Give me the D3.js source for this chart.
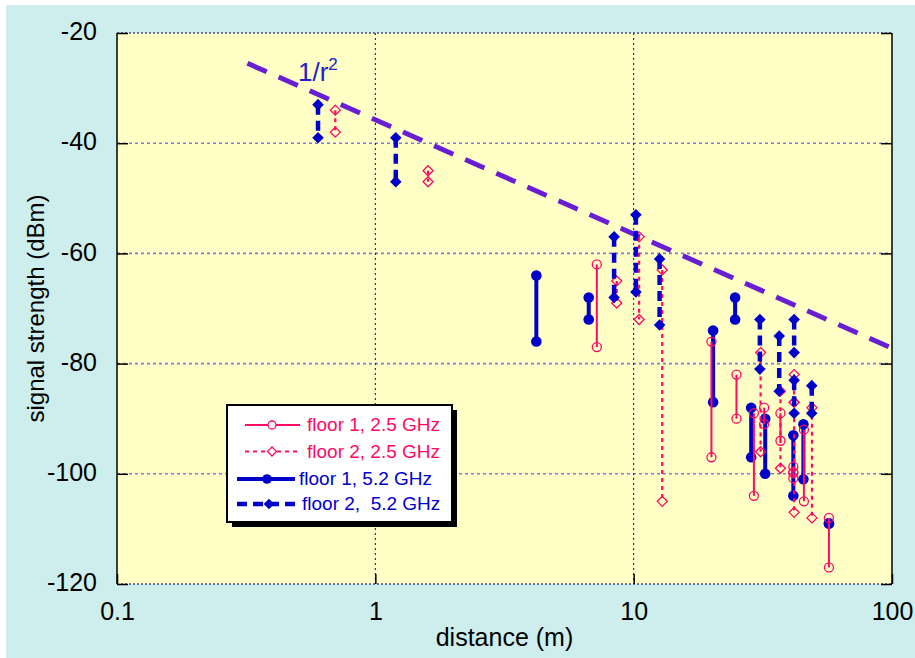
<!DOCTYPE html>
<html>
<head>
<meta charset="utf-8">
<script src="https://cdn.jsdelivr.net/npm/d3@7"></script>
<style>
  body { margin: 0; background: #fff; }
  svg { display: block; }
  text { font-family: "Liberation Sans", Arial, sans-serif; }
</style>
</head>
<body>
<svg></svg>
<script>
// floor 1, 2.5 GHz (open circles, thin solid)
var f1_25_dist = [7.2, 20, 25, 29.2, 32, 37, 41.5, 41.5, 45.6, 57];
var f1_25_hi   = [-62, -76, -82, -89, -88, -89, -98.7, -99.8, -92, -108];
var f1_25_lo   = [-77, -97, -90, -104, -91, -94, -100.8, -99.8, -105, -117];

// floor 2, 2.5 GHz (open diamonds, dotted)
var f2_25_dist = [0.7, 1.6, 8.6, 10.5, 12.9, 31, 37, 41.8, 41.8, 49];
var f2_25_hi   = [-34, -45, -65, -57, -63, -78, -85, -82, -87, -88];
var f2_25_lo   = [-38, -47, -69, -72, -105, -96, -99, -87, -107, -108];

// floor 1, 5.2 GHz (filled circles, thick solid)
var f1_52_dist = [4.2, 6.7, 20.3, 24.7, 28.5, 32.3, 41.5, 45.4, 57];
var f1_52_hi   = [-64, -68, -74, -68, -88, -90, -93, -91, -109];
var f1_52_lo   = [-76, -72, -87, -72, -97, -100, -104, -101, -109];

// floor 2, 5.2 GHz (filled diamonds, thick dashed)
var f2_52_dist = [0.6, 1.2, 8.4, 10.2, 12.6, 30.8, 36.6, 41.8, 41.8, 48.9];
var f2_52_hi   = [-33, -39, -57, -53, -61, -72, -75, -72, -83, -84];
var f2_52_lo   = [-39, -47, -68, -67, -73, -81, -85, -78, -89, -89];

// 1/r^2 reference line end points
var ref_dist = [0.32, 100];
var ref_val  = [-25.5, -77.2];

var xTicks = [0.1, 1, 10, 100];
var yTicks = [-120, -100, -80, -60, -40, -20];
var legendLabels = ['floor 1, 2.5 GHz', 'floor 2, 2.5 GHz', 'floor 1, 5.2 GHz', 'floor 2,  5.2 GHz'];

var W = 915, H = 658;
var red = '#ff0a64', blue = '#0000cc';

var svg = d3.select('svg')
    .attr('width', W)
    .attr('height', H);

svg.append('rect')
    .attr('x', 6).attr('y', 5)
    .attr('width', W - 6).attr('height', H - 5)
    .attr('fill', '#cdeeed');

// plot box (window.top is reserved, so use p* names)
var pL = 117, pR = 892, pT = 33, pB = 584;

var x = d3.scaleLog().domain([0.1, 100]).range([pL, pR]);
var y = d3.scaleLinear().domain([-120, -20]).range([pB, pT]);

svg.append('rect')
    .attr('x', pL).attr('y', pT)
    .attr('width', pR - pL).attr('height', pB - pT)
    .attr('fill', '#ffffc6');

// grid
svg.append('g').selectAll('line')
    .data([-100, -80, -60, -40])
    .enter().append('line')
    .attr('x1', pL).attr('x2', pR)
    .attr('y1', d => y(d)).attr('y2', d => y(d))
    .attr('stroke', '#7c7cd2')
    .attr('stroke-width', 1.6)
    .attr('stroke-dasharray', '3,3');

svg.append('g').selectAll('line')
    .data([1, 10])
    .enter().append('line')
    .attr('x1', d => x(d)).attr('x2', d => x(d))
    .attr('y1', pT).attr('y2', pB)
    .attr('stroke', '#0000b4')
    .attr('stroke-width', 1)
    .attr('stroke-dasharray', '2,3');

// frame: dotted top/bottom, solid sides
[pT, pB].forEach(function(yy) {
    svg.append('line')
        .attr('x1', pL).attr('x2', pR)
        .attr('y1', yy).attr('y2', yy)
        .attr('stroke', '#4a4a80')
        .attr('stroke-width', 1.5)
        .attr('stroke-dasharray', '2,2');
});
[pL, pR].forEach(function(xx) {
    svg.append('line')
        .attr('x1', xx).attr('x2', xx)
        .attr('y1', pT).attr('y2', pB)
        .attr('stroke', '#000')
        .attr('stroke-width', 1.5);
});

// axes
var yAxis = svg.append('g')
    .attr('transform', 'translate(' + pL + ',0)')
    .call(d3.axisLeft(y).tickValues(yTicks).tickSize(-11).tickPadding(20).tickFormat(d => d));
var yAxisR = svg.append('g')
    .attr('transform', 'translate(' + pR + ',0)')
    .call(d3.axisRight(y).tickValues(yTicks).tickSize(-11).tickFormat(''));
var xAxis = svg.append('g')
    .attr('transform', 'translate(0,' + pB + ')')
    .call(d3.axisBottom(x).tickValues(xTicks).tickSize(-10).tickPadding(18).tickFormat(d => d));

[yAxis, yAxisR, xAxis].forEach(function(a) {
    a.select('.domain').remove();
    a.selectAll('line').attr('stroke', '#000').attr('stroke-width', 1.5);
    a.selectAll('text')
        .attr('fill', '#000')
        .style('font-size', '25px')
        .style('font-family', '"Liberation Sans", Arial, sans-serif');
});
yAxis.selectAll('text').attr('dy', '0.27em');

svg.append('text')
    .text('distance (m)')
    .attr('x', (pL + pR) / 2)
    .attr('y', 646)
    .attr('text-anchor', 'middle')
    .attr('font-size', 25);

svg.append('text')
    .text('signal strength (dBm)')
    .attr('transform', 'translate(44,' + ((pT + pB) / 2) + ') rotate(-90)')
    .attr('text-anchor', 'middle')
    .attr('font-size', 24);

// 1/r^2 line
svg.append('line')
    .attr('x1', x(ref_dist[0])).attr('y1', y(ref_val[0]))
    .attr('x2', x(ref_dist[1])).attr('y2', y(ref_val[1]))
    .attr('stroke', '#6a1ed2')
    .attr('stroke-width', 5)
    .attr('stroke-dasharray', '21,13');

var lbl = svg.append('text')
    .attr('x', 298).attr('y', 81)
    .attr('fill', '#2020c8')
    .attr('font-size', 26);
lbl.append('tspan').text('1/r');
lbl.append('tspan').text('2').attr('font-size', 17).attr('dy', -11);

function diamond(s) {
    return 'M0,' + (-s) + 'L' + s + ',0L0,' + s + 'L' + (-s) + ',0Z';
}

function drawSeries(dist, hi, lo, opt) {
    var g = svg.append('g');
    var pairs = dist.map((d, i) => ({ d: d, hi: hi[i], lo: lo[i] }));
    g.selectAll('line')
        .data(pairs)
        .enter().append('line')
        .attr('x1', p => x(p.d)).attr('x2', p => x(p.d))
        .attr('y1', p => y(p.hi)).attr('y2', p => y(p.lo))
        .attr('stroke', opt.color)
        .attr('stroke-width', opt.width)
        .attr('stroke-dasharray', opt.dash);
    var pts = [];
    pairs.forEach(p => { pts.push([p.d, p.hi]); pts.push([p.d, p.lo]); });
    var m = g.selectAll('.mk')
        .data(pts)
        .enter();
    if (opt.shape === 'circle') {
        m.append('circle')
            .attr('cx', p => x(p[0])).attr('cy', p => y(p[1]))
            .attr('r', opt.size)
            .attr('fill', opt.filled ? opt.color : 'none')
            .attr('stroke', opt.color)
            .attr('stroke-width', opt.filled ? 0 : 1.3);
    } else {
        m.append('path')
            .attr('d', diamond(opt.size))
            .attr('transform', p => 'translate(' + x(p[0]) + ',' + y(p[1]) + ')')
            .attr('fill', opt.filled ? opt.color : 'none')
            .attr('stroke', opt.color)
            .attr('stroke-width', opt.filled ? 0 : 1.3);
    }
}

var styles = [
    { color: red, width: 2, dash: null, shape: 'circle', size: 4.5, filled: false },
    { color: red, width: 2.2, dash: '4,4', shape: 'diamond', size: 5, filled: false },
    { color: blue, width: 4, dash: null, shape: 'circle', size: 5.3, filled: true },
    { color: blue, width: 4.5, dash: '10,6', shape: 'diamond', size: 5.8, filled: true }
];

drawSeries(f1_52_dist, f1_52_hi, f1_52_lo, styles[2]);
drawSeries(f1_25_dist, f1_25_hi, f1_25_lo, styles[0]);
drawSeries(f2_25_dist, f2_25_hi, f2_25_lo, styles[1]);
drawSeries(f2_52_dist, f2_52_hi, f2_52_lo, styles[3]);

// legend
var lx = 227, ly = 405, lw = 225, lh = 117;
svg.append('rect')
    .attr('x', lx + 5).attr('y', ly + 5)
    .attr('width', lw).attr('height', lh)
    .attr('fill', '#000');
svg.append('rect')
    .attr('x', lx).attr('y', ly)
    .attr('width', lw).attr('height', lh)
    .attr('fill', '#fff')
    .attr('stroke', '#000')
    .attr('stroke-width', 2);

var legRows = [
    { base: 431, cy: 425, x1: 245, x2: 300, mx: 272, tx: 307 },
    { base: 457.5, cy: 451.5, x1: 245, x2: 300, mx: 272, tx: 307 },
    { base: 485, cy: 479, x1: 237, x2: 295, mx: 267, tx: 299 },
    { base: 510, cy: 504, x1: 237, x2: 295, mx: 269, tx: 302 }
];

legRows.forEach(function(r, i) {
    var s = styles[i];
    svg.append('line')
        .attr('x1', r.x1).attr('x2', r.x2)
        .attr('y1', r.cy).attr('y2', r.cy)
        .attr('stroke', s.color)
        .attr('stroke-width', s.width)
        .attr('stroke-dasharray', s.dash);
    if (s.shape === 'circle') {
        svg.append('circle')
            .attr('cx', r.mx).attr('cy', r.cy)
            .attr('r', s.size - 0.5)
            .attr('fill', s.filled ? s.color : '#fff')
            .attr('stroke', s.color)
            .attr('stroke-width', s.filled ? 0 : 1.3);
    } else {
        svg.append('path')
            .attr('d', diamond(s.size - 0.5))
            .attr('transform', 'translate(' + r.mx + ',' + r.cy + ')')
            .attr('fill', s.filled ? s.color : '#fff')
            .attr('stroke', s.color)
            .attr('stroke-width', s.filled ? 0 : 1.3);
    }
    svg.append('text')
        .text(legendLabels[i])
        .attr('x', r.tx).attr('y', r.base)
        .attr('fill', s.color)
        .attr('font-size', 19)
        .style('white-space', 'pre');
});
</script>
</body>
</html>
